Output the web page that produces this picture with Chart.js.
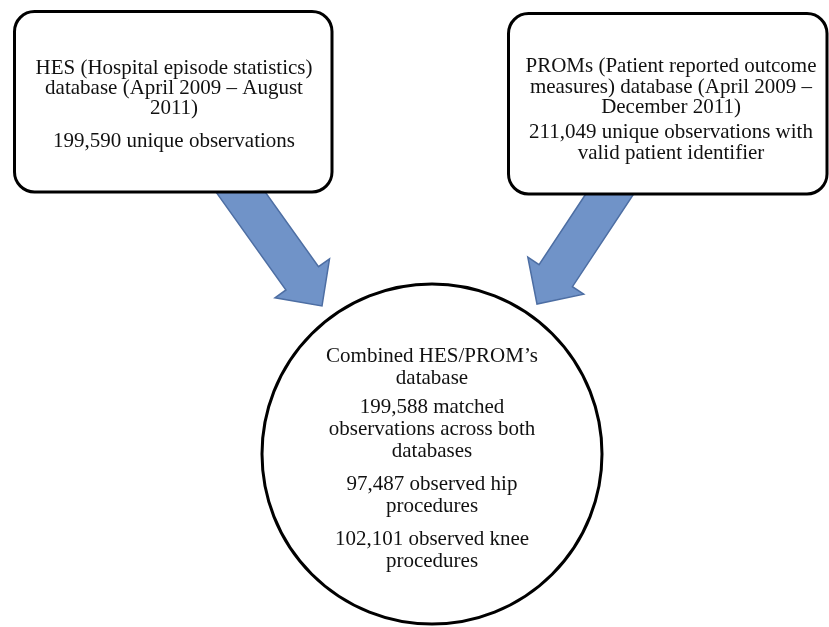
<!DOCTYPE html>
<html>
<head>
<meta charset="utf-8">
<script src="https://cdn.jsdelivr.net/npm/chart.js@4/dist/chart.umd.min.js"></script>
<style>
  html, body { margin: 0; padding: 0; background: #fff; }
  #wrap { width: 829px; height: 627px; }
</style>
</head>
<body>
<div id="wrap"><canvas id="flowChart"></canvas></div>
<script>
// counts shown in the diagram
const observationCounts = [199590, 211049, 199588, 97487, 102101];
const fmt = n => n.toLocaleString('en-US');

// text of each node, one array per paragraph
const hesText = [
    ['HES (Hospital episode statistics)', 'database (April 2009 \u2013 August', '2011)'],
    [fmt(observationCounts[0]) + ' unique observations']
];
const promsText = [
    ['PROMs (Patient reported outcome', 'measures) database (April 2009 \u2013', 'December 2011)'],
    [fmt(observationCounts[1]) + ' unique observations with', 'valid patient identifier']
];
const combinedText = [
    ['Combined HES/PROM\u2019s', 'database'],
    [fmt(observationCounts[2]) + ' matched', 'observations across both', 'databases'],
    [fmt(observationCounts[3]) + ' observed hip', 'procedures'],
    [fmt(observationCounts[4]) + ' observed knee', 'procedures']
];

// layout (canvas units, the scales run 0..829 and 0..627)
const boxes = [
    { x0: 14.5, y0: 11.5, x1: 332, y1: 192, r: 20, cx: 174, text: hesText, tops: [74, 147], lh: 20 },
    { x0: 508.5, y0: 13.5, x1: 827, y1: 194, r: 20, cx: 671, text: promsText, tops: [72, 138], lh: 20.5 }
];
const circle = { x: 432, y: 454, r: 170, text: combinedText, tops: [362, 413, 490, 545], lh: 22 };
const arrows = [
    { from: [232, 180], to: [322, 306] },
    { from: [619, 180], to: [537, 304] }
];
const arrowShaft = 40, arrowHead = 67, arrowHeadLen = 34;

const FONT = '21px "Liberation Serif", "Times New Roman", serif';

function drawText(ctx, xs, ys, cx, item) {
    ctx.save();
    ctx.font = FONT;
    ctx.fillStyle = '#111';
    ctx.textAlign = 'center';
    ctx.textBaseline = 'alphabetic';
    item.text.forEach((para, i) => {
        para.forEach((line, j) => {
            ctx.fillText(line, xs.getPixelForValue(cx), ys.getPixelForValue(item.tops[i] + j * item.lh));
        });
    });
    ctx.restore();
}

// arrows and boxes are drawn before the circle dataset, text after
const diagramPlugin = {
    id: 'diagram',
    beforeDatasetsDraw(chart) {
        const ctx = chart.ctx;
        const xs = chart.scales.x, ys = chart.scales.y;

        // block arrows
        arrows.forEach(a => {
            const x0 = xs.getPixelForValue(a.from[0]), y0 = ys.getPixelForValue(a.from[1]);
            const x1 = xs.getPixelForValue(a.to[0]), y1 = ys.getPixelForValue(a.to[1]);
            const len = Math.hypot(x1 - x0, y1 - y0);
            const ux = (x1 - x0) / len, uy = (y1 - y0) / len;
            const px = -uy, py = ux;
            const bx = x1 - ux * arrowHeadLen, by = y1 - uy * arrowHeadLen;
            const s = arrowShaft / 2, h = arrowHead / 2;
            ctx.save();
            ctx.beginPath();
            ctx.moveTo(x0 + px * s, y0 + py * s);
            ctx.lineTo(bx + px * s, by + py * s);
            ctx.lineTo(bx + px * h, by + py * h);
            ctx.lineTo(x1, y1);
            ctx.lineTo(bx - px * h, by - py * h);
            ctx.lineTo(bx - px * s, by - py * s);
            ctx.lineTo(x0 - px * s, y0 - py * s);
            ctx.closePath();
            ctx.fillStyle = '#7093c8';
            ctx.fill();
            ctx.lineWidth = 1.5;
            ctx.strokeStyle = '#4d6ea3';
            ctx.stroke();
            ctx.restore();
        });

        // rounded source boxes
        boxes.forEach(b => {
            const l = xs.getPixelForValue(b.x0), r = xs.getPixelForValue(b.x1);
            const t = ys.getPixelForValue(b.y0), btm = ys.getPixelForValue(b.y1);
            ctx.save();
            ctx.beginPath();
            ctx.roundRect(l, t, r - l, btm - t, b.r);
            ctx.fillStyle = '#fff';
            ctx.fill();
            ctx.lineWidth = 3;
            ctx.strokeStyle = '#000';
            ctx.stroke();
            ctx.restore();
            drawText(ctx, xs, ys, b.cx, b);
        });
    },
    afterDatasetsDraw(chart) {
        drawText(chart.ctx, chart.scales.x, chart.scales.y, circle.x, circle);
    }
};

document.addEventListener('DOMContentLoaded', function() {
    const ctx = document.getElementById('flowChart').getContext('2d');
    new Chart(ctx, {
        type: 'scatter',
        data: {
            datasets: [{
                label: 'Combined',
                data: [{ x: circle.x, y: circle.y }],
                pointRadius: circle.r,
                pointHoverRadius: circle.r,
                pointBackgroundColor: '#fff',
                pointBorderColor: '#000',
                pointBorderWidth: 3,
                clip: false
            }]
        },
        options: {
            responsive: true,
            maintainAspectRatio: false,
            animation: false,
            events: [],
            layout: { padding: 0, autoPadding: false },
            plugins: { legend: { display: false }, tooltip: { enabled: false } },
            scales: {
                x: { type: 'linear', min: 0, max: 829, display: false },
                y: { type: 'linear', min: 0, max: 627, reverse: true, display: false }
            }
        },
        plugins: [diagramPlugin]
    });
});
</script>
</body>
</html>
